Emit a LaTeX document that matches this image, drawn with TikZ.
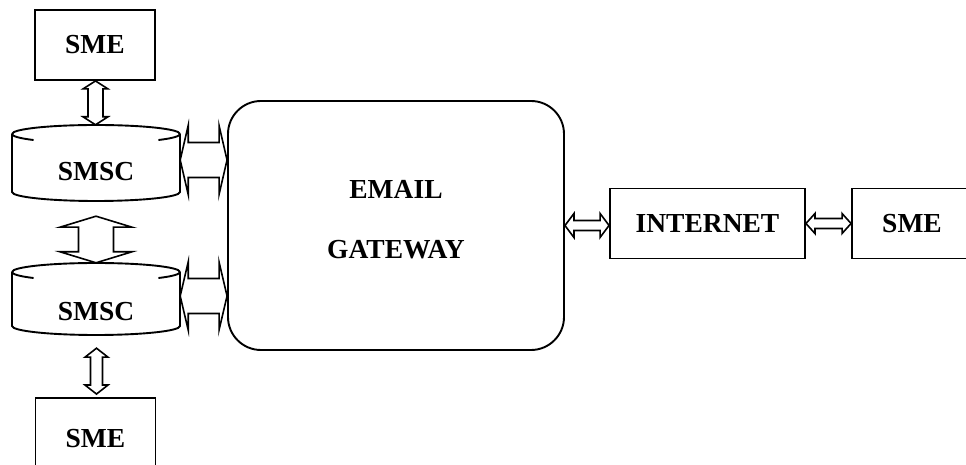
\documentclass[tikz,border=0pt]{standalone}
\usepackage{fontspec}
\setmainfont{Liberation Serif}
\usetikzlibrary{calc}
\newcommand\lblfont{\fontsize{27.5}{32}\selectfont\bfseries}
% horizontal double block arrow: #1 from, #2 to, #3 shaft half, #4 head half, #5 head length
\newcommand\hdblarrow[5]{%
  \draw[blockarrow] let \p1=(#1), \p2=(#2) in
    (\x1,\y1) -- ({\x1+#5pt},{\y1+#4pt}) -- ({\x1+#5pt},{\y1+#3pt})
    -- ({\x2-#5pt},{\y1+#3pt}) -- ({\x2-#5pt},{\y1+#4pt}) -- (\x2,\y1)
    -- ({\x2-#5pt},{\y1-#4pt}) -- ({\x2-#5pt},{\y1-#3pt})
    -- ({\x1+#5pt},{\y1-#3pt}) -- ({\x1+#5pt},{\y1-#4pt}) -- cycle;}
% vertical double block arrow (from top #1 down to #2)
\newcommand\vdblarrow[5]{%
  \draw[blockarrow] let \p1=(#1), \p2=(#2) in
    (\x1,\y1) -- ({\x1+#4pt},{\y1-#5pt}) -- ({\x1+#3pt},{\y1-#5pt})
    -- ({\x1+#3pt},{\y2+#5pt}) -- ({\x1+#4pt},{\y2+#5pt}) -- (\x1,\y2)
    -- ({\x1-#4pt},{\y2+#5pt}) -- ({\x1-#3pt},{\y2+#5pt})
    -- ({\x1-#3pt},{\y1-#5pt}) -- ({\x1-#4pt},{\y1-#5pt}) -- cycle;}
% cylinder outline: #1 xl, #2 xr, #3 top centre y, #4 bottom centre y, #5 ry
\newcommand\cylout[5]{%
  \pgfmathsetmacro\rx{(#2-#1)/2}
  \draw[cylline] (#1,#3) arc[start angle=180,end angle=0,x radius=\rx,y radius=#5];
  \draw[cylline] (#1,#3) arc[start angle=180,end angle=222,x radius=\rx,y radius=#5];
  \draw[cylline] (#2,#3) arc[start angle=0,end angle=-42,x radius=\rx,y radius=#5];
  \draw[cylline] (#1,#3) -- (#1,#4) arc[start angle=180,end angle=360,x radius=\rx,y radius=#5] -- (#2,#3);}
\tikzset{
  box/.style={draw, line width=1.9pt, rectangle, inner sep=0pt, font=\lblfont},
  gwbox/.style={draw, line width=1.9pt, rounded corners=33pt, inner sep=0pt},
  cylarea/.style={draw=none, inner sep=0pt},
  lbl/.style={inner sep=0pt, font=\lblfont, align=center},
  blockarrow/.style={draw, line width=1.6pt, line join=miter, fill=white},
  cylline/.style={line width=1.9pt},
}
\begin{document}
\begin{tikzpicture}[x=1pt,y=1pt]
\useasboundingbox (0,0) rectangle (966,465);
\clip (0,0) rectangle (966,465);
% boxes
\node[box, minimum width=120pt, minimum height=70pt] (sme1) at (95,420) {SME};
\node[box, minimum width=120pt, minimum height=82pt] (sme2) at (95.5,26) {};
\node[lbl] (sme2lbl) at (95.5,26) {SME};
\node[gwbox, minimum width=336pt, minimum height=249pt] (gw) at (396,239.5) {};
\node[lbl] (gwlbl) at (396,245) {EMAIL\\[28pt]GATEWAY};
\node[box, minimum width=195pt, minimum height=70pt] (inet) at (707.5,241.5) {INTERNET};
\node[box, minimum width=120pt, minimum height=70pt] (sme3) at (912,241.5) {};
\node[lbl] (sme3lbl) at (912,241.5) {SME};
% cylinders
\node[cylarea, minimum width=168pt, minimum height=76pt] (smsc1) at (96,302) {};
\cylout{12}{180}{331}{273}{9}
\node[lbl] (smsc1lbl) at (96,293) {SMSC};
\node[cylarea, minimum width=168pt, minimum height=72pt] (smsc2) at (96,166) {};
\cylout{12}{180}{193}{139}{9}
\node[lbl] (smsc2lbl) at (96,153) {SMSC};
% connectors
\vdblarrow{[xshift=0.5pt]sme1.south}{[xshift=0.5pt]smsc1.north}{7.5}{12.5}{8}
\vdblarrow{[yshift=-15pt]smsc1.south}{smsc2.north}{17.5}{36}{11}
\vdblarrow{[xshift=0.5pt,yshift=-13pt]smsc2.south}{[yshift=3pt]sme2.north}{6}{11.5}{9}
\hdblarrow{[yshift=3pt]smsc1.east}{[yshift=3pt]gw.west}{17.5}{34.5}{8}
\hdblarrow{[yshift=3pt]smsc2.east}{[yshift=3pt]gw.west}{17.5}{34}{8}
\hdblarrow{gw.east}{inet.west}{5}{12}{9}
\hdblarrow{inet.east}{sme3.west}{5}{10}{9}
\end{tikzpicture}
\end{document}
